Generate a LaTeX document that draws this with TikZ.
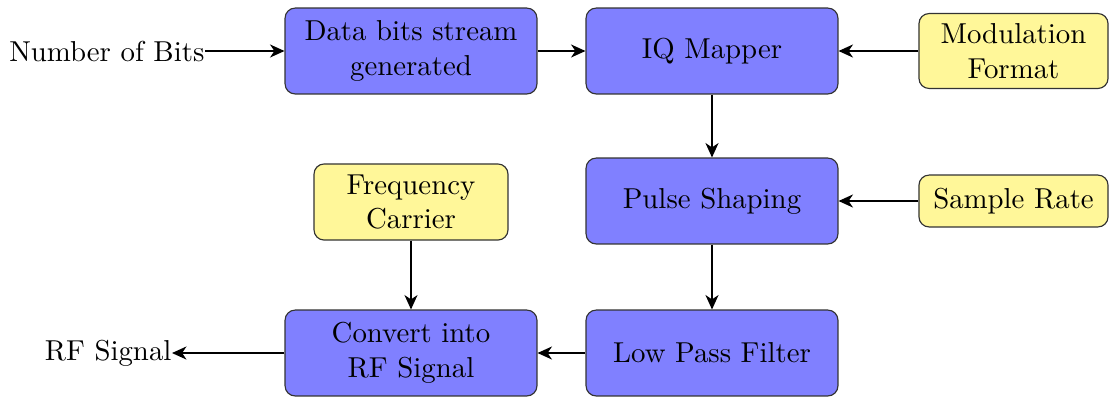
\documentclass[tikz,border=0pt]{standalone}
\usetikzlibrary{arrows.meta}
\definecolor{boxblue}{RGB}{128,128,255}
\definecolor{boxyellow}{RGB}{255,247,153}
\tikzset{
  blk/.style={draw=black!80, line width=0.4pt, fill=boxblue, rounded corners=3.5pt,
    minimum width=87.4pt, minimum height=29.8pt, align=center, inner sep=1pt},
  inp/.style={draw=black!80, line width=0.4pt, fill=boxyellow, rounded corners=3.5pt,
    align=center, inner sep=1pt},
  lbl/.style={inner sep=0pt},
  arr/.style={-{Stealth[length=5pt,width=4.5pt,inset=1.5pt]}, line width=0.7pt}
}
\begin{document}
\begin{tikzpicture}[x=0.347pt, y=-0.347pt]
\useasboundingbox (0,0) rectangle (1110,401);
\node[blk] (data) at (411,51) {Data bits stream\\generated};
\node[blk] (iq) at (712,51) {IQ Mapper};
\node[inp, minimum width=65.6pt, minimum height=26pt] (mod) at (1013.5,51) {Modulation\\Format};
\node[blk] (pulse) at (712,201) {Pulse Shaping};
\node[inp, minimum width=65.6pt, minimum height=18pt] (rate) at (1013.5,201) {Sample Rate};
\node[inp, minimum width=67.3pt, minimum height=26.4pt] (freq) at (411,202) {Frequency\\Carrier};
\node[blk] (conv) at (411,353) {Convert into\\RF Signal};
\node[blk] (lpf) at (712,353) {Low Pass Filter};
\node[lbl, anchor=east] (bits) at (205,51) {Number of Bits};
\node[lbl, anchor=east] (rf) at (172,353) {RF Signal};
\draw[arr] (bits.east) -- (data.west);
\draw[arr] (data) -- (iq);
\draw[arr] (mod) -- (iq);
\draw[arr] (iq) -- (pulse);
\draw[arr] (rate) -- (pulse);
\draw[arr] (pulse) -- (lpf);
\draw[arr] (lpf) -- (conv);
\draw[arr] (freq) -- (conv);
\draw[arr] (conv.west) -- (rf.east);
\end{tikzpicture}
\end{document}
